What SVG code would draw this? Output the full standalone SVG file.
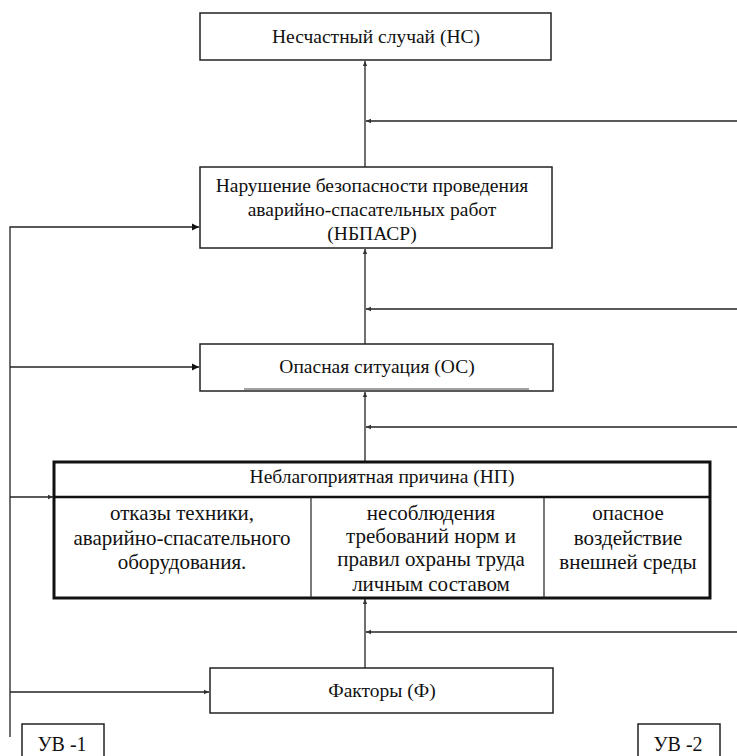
<svg xmlns="http://www.w3.org/2000/svg" width="737" height="756" viewBox="0 0 737 756">
<style>
.box{fill:#fff;stroke:#222;stroke-width:1.5}
.thick{fill:none;stroke:#111;stroke-width:3}
.ln{stroke:#222;stroke-width:1.3;fill:none}
.t{font-family:"Liberation Serif","Times New Roman",serif;font-size:19.5px;fill:#111;text-anchor:middle}
.c{font-family:"Liberation Serif","Times New Roman",serif;font-size:21px;fill:#111;text-anchor:middle}
</style>
<defs>
<marker id="ah" markerWidth="8" markerHeight="8" refX="7" refY="4" orient="auto" markerUnits="userSpaceOnUse">
<path d="M0,0.5 L7,4 L0,7.5 Z" fill="#111"/>
</marker>
<marker id="sa" markerWidth="6" markerHeight="6" refX="5" refY="3" orient="auto" markerUnits="userSpaceOnUse">
<path d="M0,0.8 L5,3 L0,5.2 Z" fill="#333"/>
</marker>
</defs>
<rect width="737" height="756" fill="#fff"/>
<g id="connectors">
<line class="ln" x1="365" y1="167" x2="365" y2="61" marker-end="url(#sa)"/>
<line class="ln" x1="365" y1="344" x2="365" y2="249" marker-end="url(#sa)"/>
<line class="ln" x1="365" y1="462" x2="365" y2="392" marker-end="url(#sa)"/>
<line class="ln" x1="365" y1="668" x2="365" y2="599" marker-end="url(#sa)"/>
<line class="ln" x1="737" y1="121" x2="366" y2="121" marker-end="url(#sa)"/>
<line class="ln" x1="737" y1="309" x2="366" y2="309" marker-end="url(#sa)"/>
<line class="ln" x1="737" y1="427" x2="366" y2="427" marker-end="url(#sa)"/>
<line class="ln" x1="737" y1="632" x2="366" y2="632" marker-end="url(#sa)"/>
<polyline class="ln" points="10,737 10,227 199,227" marker-end="url(#ah)"/>
<line class="ln" x1="10" y1="367" x2="199" y2="367" marker-end="url(#ah)"/>
<line class="ln" x1="10" y1="497" x2="53" y2="497" marker-end="url(#sa)"/>
<line class="ln" x1="10" y1="692" x2="209" y2="692" marker-end="url(#sa)"/>
</g>
<g id="ns">
<rect class="box" x="200" y="13" width="351" height="47"/>
<text class="t" x="376" y="43">Несчастный случай (НС)</text>
</g>
<g id="nbpasr">
<rect class="box" x="200" y="167" width="352" height="81"/>
<text class="t" x="372" y="192">Нарушение безопасности проведения</text>
<text class="t" x="372" y="216">аварийно-спасательных работ</text>
<text class="t" x="372" y="240">(НБПАСР)</text>
</g>
<g id="os">
<rect class="box" x="200" y="344" width="353" height="47"/>
<line x1="244" y1="389" x2="529" y2="389" stroke="#444" stroke-width="1"/>
<text class="t" x="377" y="373">Опасная ситуация (ОС)</text>
</g>
<g id="np">
<rect x="54" y="462" width="656" height="136" fill="#fff"/>
<rect class="thick" x="54" y="462" width="656" height="136"/>
<line x1="54" y1="497" x2="710" y2="497" stroke="#111" stroke-width="2.5"/>
<line x1="311" y1="497" x2="311" y2="598" stroke="#222" stroke-width="1.2"/>
<line x1="544" y1="497" x2="544" y2="598" stroke="#222" stroke-width="1.2"/>
<text class="t" x="382" y="483">Неблагоприятная причина (НП)</text>
<text class="c" x="182" y="520">отказы техники,</text>
<text class="c" x="182" y="545">аварийно-спасательного</text>
<text class="c" x="182" y="569">оборудования.</text>
<text class="c" x="431" y="520">несоблюдения</text>
<text class="c" x="431" y="543">требований норм и</text>
<text class="c" x="431" y="566">правил охраны труда</text>
<text class="c" x="431" y="591">личным составом</text>
<text class="c" x="628" y="520">опасное</text>
<text class="c" x="628" y="545">воздействие</text>
<text class="c" x="628" y="569">внешней среды</text>
</g>
<g id="f">
<rect class="box" x="210" y="668" width="343" height="45"/>
<text class="t" x="382" y="697">Факторы (Ф)</text>
</g>
<g id="uv1">
<rect class="box" x="22" y="724" width="82" height="40"/>
<text class="t" x="62" y="751" style="font-size:20px">УВ -1</text>
</g>
<g id="uv2">
<rect class="box" x="638" y="724" width="82" height="40"/>
<text class="t" x="678" y="751" style="font-size:20px">УВ -2</text>
</g>
</svg>
